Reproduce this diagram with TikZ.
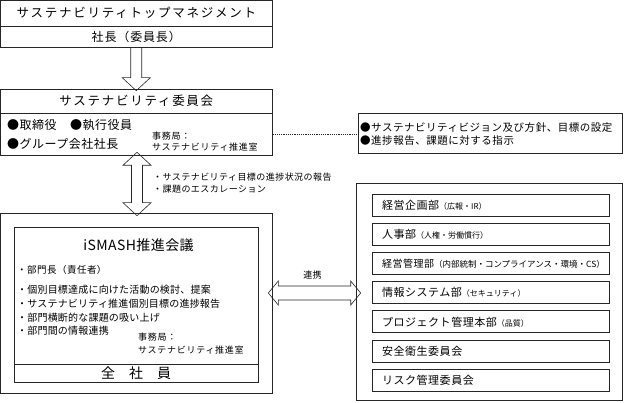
\documentclass[tikz,border=0pt]{standalone}
\usepackage{fontspec}
\setmainfont{Noto Sans CJK JP}
\usetikzlibrary{calc}

\newcommand{\jf}[3]{\fontsize{#1}{#2}\selectfont\addfontfeature{LetterSpace=#3}}

\tikzset{
  box/.style={draw=black!85, line width=0.6pt, inner sep=0pt},
  txt/.style={inner sep=0pt, anchor=west, align=left},
  dept/.style={draw=black!85, line width=0.6pt, minimum width=237, minimum height=22, inner xsep=10pt, inner ysep=0pt, text width=217, align=left, font=\jf{11}{13}{5}},
  small/.style={},
  blockarrow/.style={draw=black!85, line width=0.6pt, line join=miter},
}

\begin{document}
\begin{tikzpicture}[x=1pt,y=-1pt]
        \useasboundingbox (0,0) rectangle (624,403);

        % Draw the top management box
        \node[box, minimum width=271.5, minimum height=25.5, font=\jf{12.5}{14}{14}] (mgmt) at (136.25,13.25) {サステナビリティトップマネジメント};
        \node[box, minimum width=271.5, minimum height=21, font=\jf{12}{14}{7}] (pres) at (136.25,36.5) {社長（委員長）};

        % Draw the committee box
        \node[box, minimum width=271.5, minimum height=24, font=\jf{12.5}{14}{14}] (cmte) at (136.25,101) {サステナビリティ委員会};
        \node[box, minimum width=271.5, minimum height=42] (cmteBody) at (136.25,134) {};
        \node[txt, font=\jf{12}{14}{4}] (dir) at (7,125) {●取締役};
        \node[txt, font=\jf{12}{14}{4}] (exec) at (70,125) {●執行役員};
        \node[txt, font=\jf{12}{14}{4}] (grp) at (7,144) {●グループ会社社長};
        \node[txt, font=\jf{9}{11}{8}] (sec1) at (152,141.5) {事務局：\\サステナビリティ推進室};

        % Draw the role box on the right
        \node[box, minimum width=264, minimum height=40] (info) at (490,133) {};
        \node[txt, font=\jf{10.5}{13}{5}] (roles) at (360,134.5) {●サステナビリティビジョン及び方針、目標の設定\\●進捗報告、課題に対する指示};

        % Dotted link between committee and roles
        \draw[black!85, line width=0.7pt, dash pattern=on 1.2pt off 1pt] (cmteBody.east) -- (cmteBody.east -| info.west);

        % Draw the meeting box with all employees
        \node[box, minimum width=271.5, minimum height=180] (outerL) at (136.25,303) {};
        \node[box, minimum width=244, minimum height=137] (meeting) at (136,295.5) {};
        \node[box, minimum width=244, minimum height=18, font=\jf{14}{16}{0}] (staff) at (136,373) {全　社　員};
        \node[font=\jf{14}{16}{3}] (mtitle) at (138.5,245) {iSMASH推進会議};
        \node[txt, font=\jf{9.5}{12}{5}] (head) at (17,270) {・部門長（責任者）};
        \node[txt, font=\jf{10}{13.7}{2}] (duties) at (17,310.5) {・個別目標達成に向けた活動の検討、提案\\・サステナビリティ推進個別目標の進捗報告\\・部門横断的な課題の吸い上げ\\・部門間の情報連携};
        \node[txt, font=\jf{9}{13}{8}] (sec2) at (138,343.5) {事務局：\\サステナビリティ推進室};

        % Draw the departments on the right
        \node[box, minimum width=266, minimum height=217] (outerR) at (489,291.5) {};
        \node[dept] (plan) at (490.5,205) {経営企画部{\jf{8}{10}{0}（広報・IR）}};
        \node[dept] (hr) at (490.5,234.2) {人事部{\jf{8}{10}{0}（人権・労働慣行）}};
        \node[dept, font=\jf{10}{13}{5}] (ctrl) at (490.5,263.4) {経営管理部{\jf{8.5}{10}{0}（内部統制・コンプライアンス・環境・CS）}};
        \node[dept] (it) at (490.5,292.6) {情報システム部{\jf{8}{10}{0}（セキュリティ）}};
        \node[dept] (pmo) at (490.5,321.8) {プロジェクト管理本部{\jf{8}{10}{0}（品質）}};
        \node[dept] (safety) at (490.5,351) {安全衛生委員会};
        \node[dept] (risk) at (490.5,380.2) {リスク管理委員会};

        % Block arrow from president down to the committee
        \coordinate (A1) at (pres.south);
        \coordinate (A2) at ($(cmte.north)+(0,2)$);
        \draw[blockarrow] ($(A1)+(-5.5,0)$) -- ($(A2)+(-5.5,-13)$) -- ($(A2)+(-14,-13)$) -- (A2) -- ($(A2)+(14,-13)$) -- ($(A2)+(5.5,-13)$) -- ($(A1)+(5.5,0)$);

        % Double arrow between committee and meeting
        \coordinate (B1) at ($(cmteBody.south)+(0.75,-3)$);
        \coordinate (B2) at ($(outerL.north)+(0.75,3)$);
        \draw[blockarrow] (B1) -- ++(14,13) -- ++(-8.5,0) -- ($(B2)+(5.5,-13)$) -- ++(8.5,0) -- (B2) -- ++(-14,-13) -- ++(8.5,0) -- ($(B1)+(-5.5,13)$) -- ++(-8.5,0) -- cycle;
        \node[txt, font=\jf{9}{12.5}{5}] (report) at (153,183) {・サステナビリティ目標の進捗状況の報告\\・課題のエスカレーション};

        % Double arrow between meeting and departments
        \coordinate (C1) at ($(outerL.east)+(-4,-10)$);
        \coordinate (C2) at ($(outerR.west)+(5,1.5)$);
        \draw[blockarrow] (C1) -- ++(10,-12) -- ++(0,5) -- ($(C2)+(-10,-7)$) -- ++(0,-5) -- (C2) -- ++(-10,12) -- ++(0,-5) -- ($(C1)+(10,7)$) -- ++(0,5) -- cycle;
        \node[font=\jf{9}{10}{5}] (link) at ($(C1)!0.5!(C2)+(-2,-18)$) {連携};
    \end{tikzpicture}
\end{document}
